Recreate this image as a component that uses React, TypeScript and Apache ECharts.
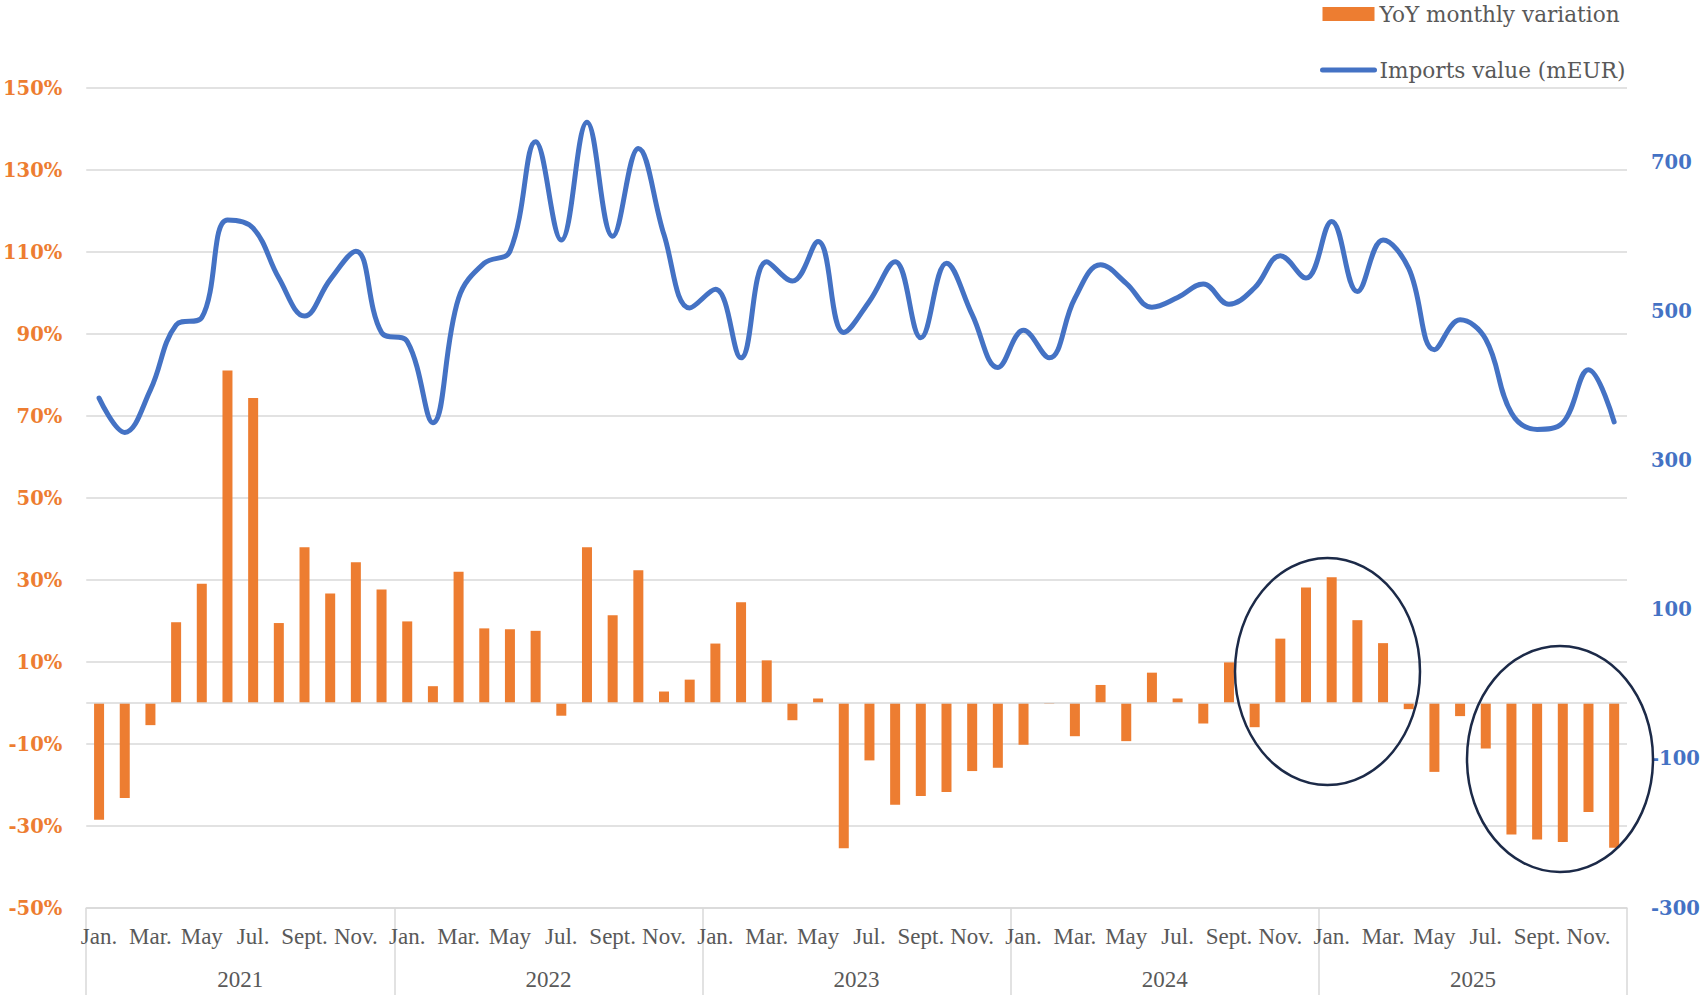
import React, { useEffect, useRef } from "react";
import * as echarts from "echarts";

const years = ["2021", "2022", "2023", "2024", "2025"];
const monthNames = ["Jan.", "Feb.", "Mar.", "Apr.", "May", "Jun.", "Jul.", "Aug.", "Sept.", "Oct.", "Nov.", "Dec."];

// YoY monthly variation (%)
const yoy2021 = [-28.5, -23.2, -5.4, 19.7, 29.1, 81.1, 74.4, 19.5, 38.0, 26.7, 34.3, 27.7];
const yoy2022 = [19.9, 4.1, 32.0, 18.2, 18.0, 17.6, -3.1, 38.0, 21.4, 32.4, 2.8, 5.7];
const yoy2023 = [14.5, 24.6, 10.4, -4.2, 1.1, -35.4, -14.0, -24.8, -22.7, -21.7, -16.6, -15.8];
const yoy2024 = [-10.2, -0.2, -8.1, 4.4, -9.3, 7.4, 1.1, -5.0, 9.9, -5.9, 15.7, 28.2];
const yoy2025 = [30.7, 20.2, 14.6, -1.5, -16.8, -3.2, -11.1, -32.1, -33.3, -33.9, -26.6, -35.3];

// Imports value (mEUR)
const imp2021 = [384, 338, 395, 482, 492, 623, 612, 545, 494, 543, 581, 472];
const imp2022 = [460, 351, 518, 565, 581, 728, 596, 754, 601, 719, 603, 505];
const imp2023 = [530, 438, 567, 541, 594, 472, 514, 567, 465, 565, 496, 425];
const imp2024 = [475, 438, 518, 563, 538, 506, 519, 537, 510, 532, 575, 545];
const imp2025 = [621, 527, 596, 558, 449, 489, 463, 364, 342, 351, 422, 352];

const leftTicks = { min: -50, max: 150, interval: 20 };
const rightTicks = { min: -300, max: 800, interval: 200 };

const categories = years.flatMap((y) => monthNames.map((m) => `${m} ${y}`));
const yoyValues = [...yoy2021, ...yoy2022, ...yoy2023, ...yoy2024, ...yoy2025];
const importValues = [...imp2021, ...imp2022, ...imp2023, ...imp2024, ...imp2025];

const ORANGE = "#ed7d31";
const BLUE = "#4472c4";
const GRAY_TEXT = "#595959";
const GRID_LINE = "#d9d9d9";
const NAVY = "#1c2a48";

export default function App() {
  const ref = useRef<HTMLDivElement>(null);

  useEffect(() => {
    document.body.style.margin = "0";
    const chart = echarts.init(ref.current!, null, { renderer: "svg" });
    chart.setOption({
      animation: false,
      backgroundColor: "#ffffff",
      grid: { left: 86, right: 79, top: 88, bottom: 87, containLabel: false },
      legend: {
        orient: "vertical",
        left: 1315,
        top: -2,
        itemWidth: 52,
        itemHeight: 14,
        itemGap: 34,
        textStyle: { fontFamily: "DejaVu Serif", fontSize: 21.6, color: GRAY_TEXT },
        data: [
          { name: "YoY monthly variation", icon: "rect" },
          {
            name: "Imports value (mEUR)",
            itemStyle: { opacity: 0 },
            lineStyle: { width: 5, cap: "round", color: BLUE },
          },
        ],
      },
      xAxis: [
        {
          type: "category",
          data: categories,
          position: "bottom",
          boundaryGap: true,
          axisLine: { show: true, onZero: false, lineStyle: { color: GRID_LINE, width: 1.5 } },
          axisTick: { show: false },
          splitLine: { show: false },
          axisLabel: {
            interval: 1,
            margin: 17,
            fontFamily: "Liberation Serif",
            fontSize: 23,
            color: GRAY_TEXT,
            formatter: (v: string) => v.split(" ")[0],
          },
        },
        {
          type: "category",
          data: years,
          position: "bottom",
          offset: 0,
          boundaryGap: true,
          axisLine: { show: false, onZero: false },
          axisTick: {
            show: true,
            interval: 0,
            length: 90,
            lineStyle: { color: GRID_LINE, width: 1.5 },
          },
          splitLine: { show: false },
          axisLabel: {
            interval: 0,
            margin: 60,
            fontFamily: "Liberation Serif",
            fontSize: 23,
            color: GRAY_TEXT,
          },
        },
      ],
      yAxis: [
        {
          type: "value",
          position: "left",
          min: leftTicks.min,
          max: leftTicks.max,
          interval: leftTicks.interval,
          axisLine: { show: false },
          axisTick: { show: false },
          splitLine: { show: true, lineStyle: { color: GRID_LINE, width: 1.5 } },
          axisLabel: {
            margin: 24,
            fontFamily: "DejaVu Serif",
            fontWeight: "bold",
            fontSize: 19.5,
            color: ORANGE,
            formatter: (v: number) => `${v}%`,
          },
        },
        {
          type: "value",
          position: "right",
          min: rightTicks.min,
          max: rightTicks.max,
          interval: rightTicks.interval,
          axisLine: { show: false },
          axisTick: { show: false },
          splitLine: { show: false },
          axisLabel: {
            margin: 24,
            showMaxLabel: false,
            fontFamily: "DejaVu Serif",
            fontWeight: "bold",
            fontSize: 19.5,
            color: BLUE,
            formatter: (v: number) => (v === rightTicks.max ? "" : `${v}`),
          },
        },
      ],
      series: [
        {
          name: "YoY monthly variation",
          type: "bar",
          xAxisIndex: 0,
          yAxisIndex: 0,
          data: yoyValues,
          barWidth: 10,
          itemStyle: { color: ORANGE },
          markLine: {
            silent: true,
            symbol: "none",
            label: { show: false },
            lineStyle: { color: GRID_LINE, width: 1.5, type: "solid" },
            data: [{ yAxis: 0 }],
          },
          z: 2,
        },
        {
          name: "Imports value (mEUR)",
          type: "line",
          xAxisIndex: 0,
          yAxisIndex: 1,
          data: importValues,
          smooth: 0.4,
          symbol: "none",
          lineStyle: { color: BLUE, width: 5, cap: "round", join: "round" },
          itemStyle: { color: BLUE },
          z: 3,
        },
      ],
      graphic: [
        {
          type: "ellipse",
          shape: { cx: 1327.5, cy: 671.5, rx: 92.5, ry: 113.5 },
          style: { fill: "none", stroke: NAVY, lineWidth: 2.5 },
          z: 10,
        },
        {
          type: "ellipse",
          shape: { cx: 1560, cy: 759, rx: 93, ry: 113 },
          style: { fill: "none", stroke: NAVY, lineWidth: 2.5 },
          z: 10,
        },
      ],
    });
    return () => chart.dispose();
  }, []);

  return (
    <div
      ref={ref}
      style={{ position: "fixed", left: 0, top: 0, width: "1706px", height: "995px" }}
    />
  );
}
